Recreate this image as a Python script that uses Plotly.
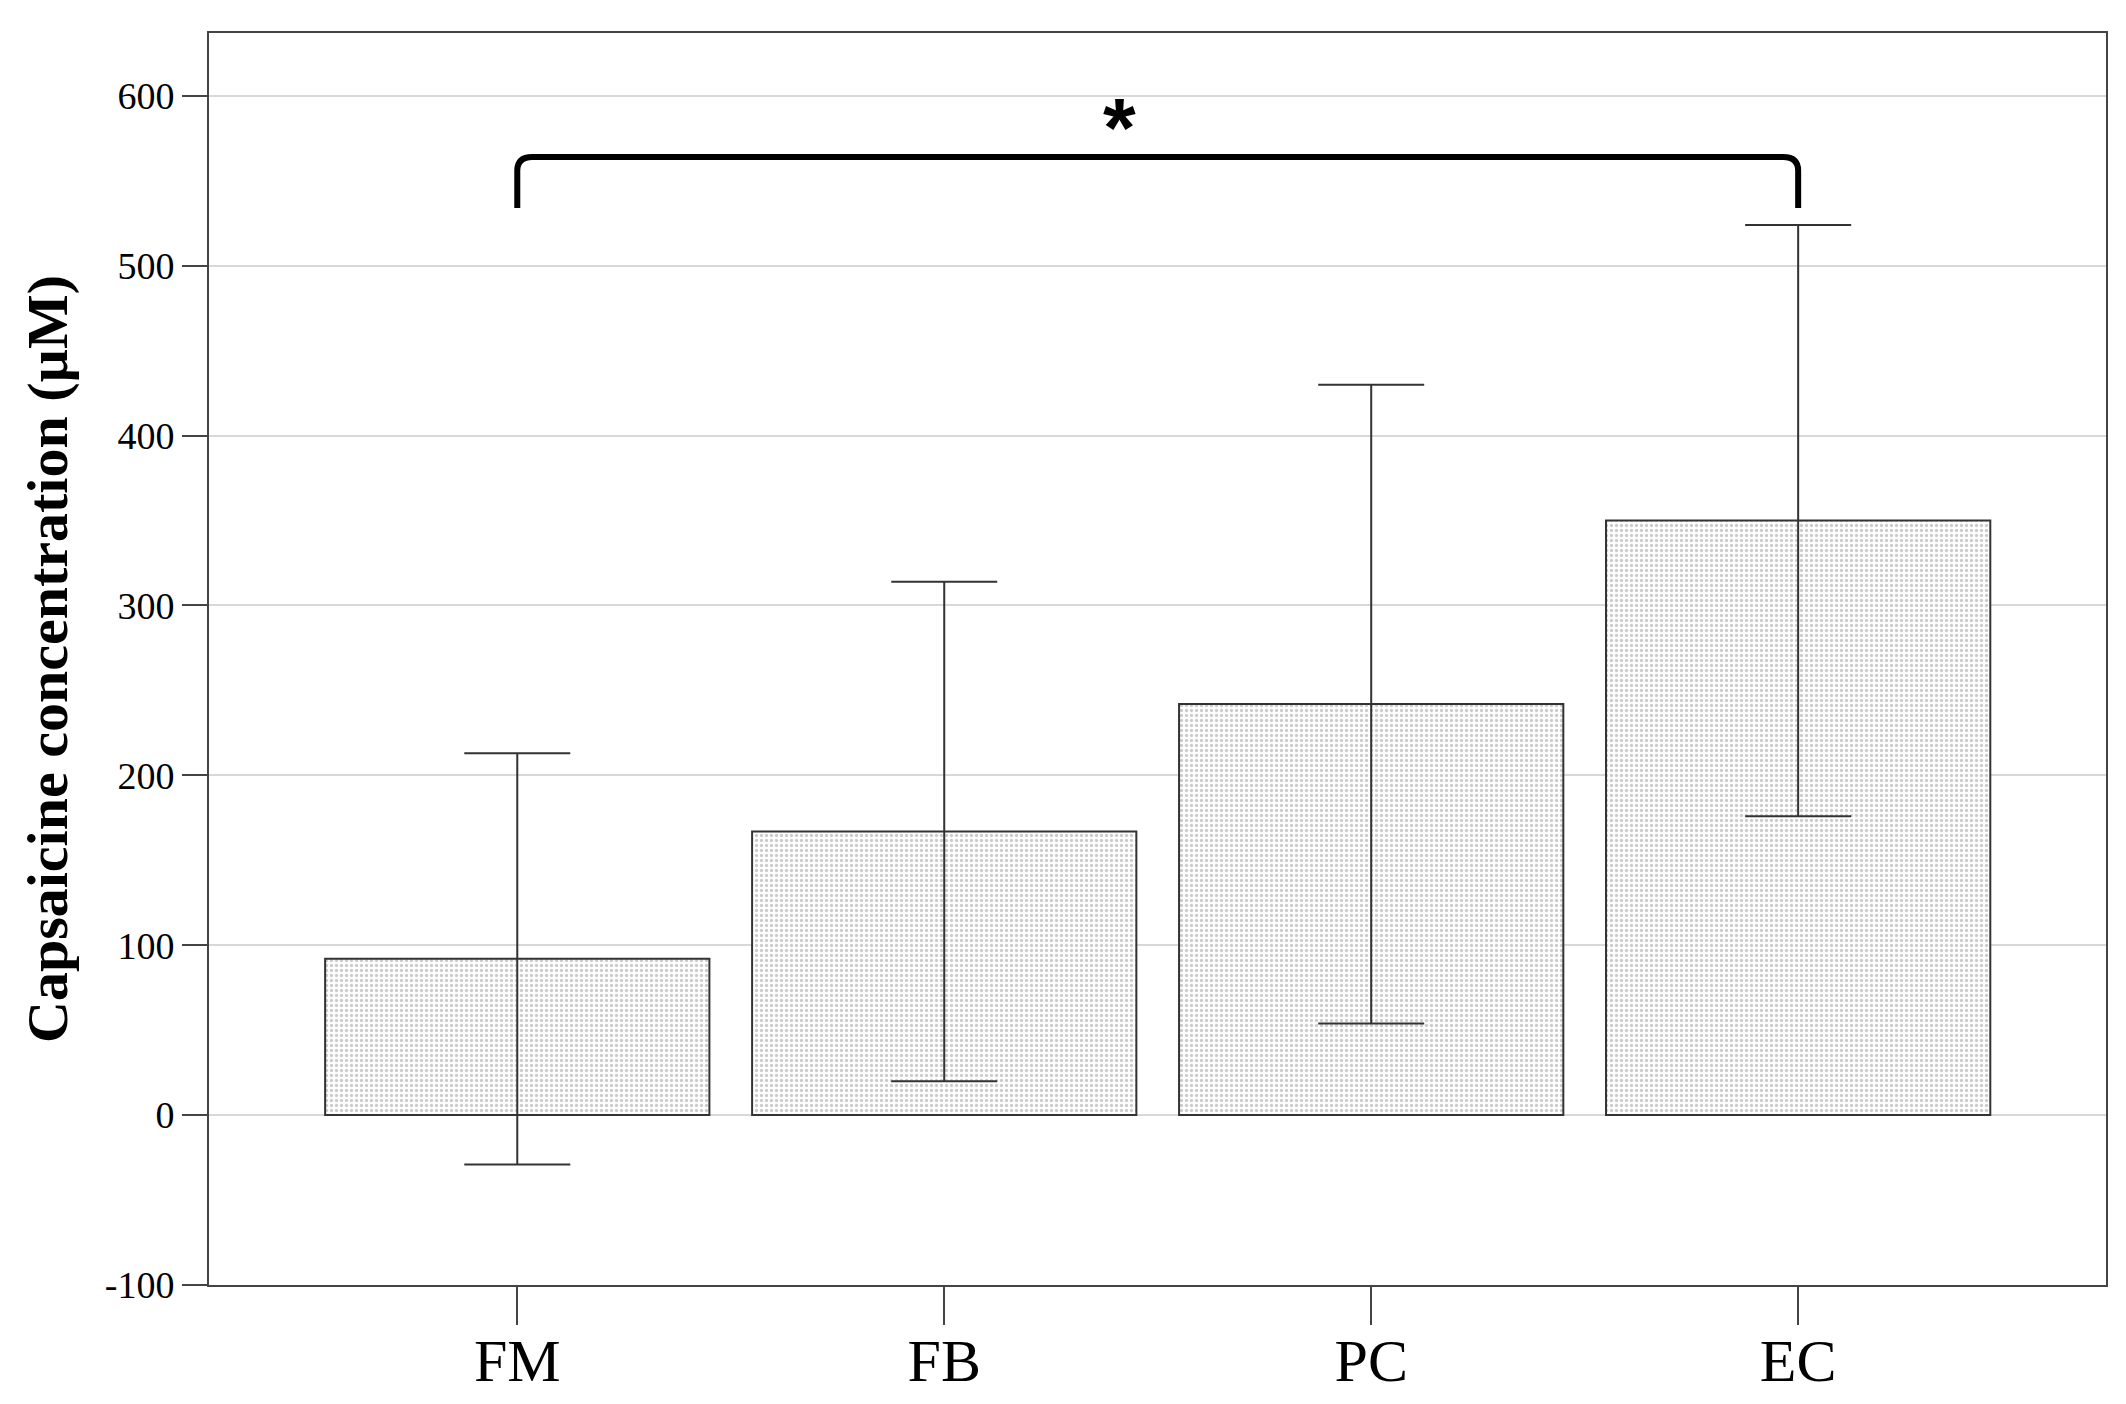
import plotly.graph_objects as go

categories = ["FM", "FB", "PC", "EC"]
means = [92, 167, 242, 350]
errors = [121, 147, 188, 174]

y_ticks = [-100, 0, 100, 200, 300, 400, 500, 600]
y_range = [-100, 637]

# significance bracket between FM and EC
bracket_from = 0
bracket_to = 3
bracket_top = 564
bracket_bottom = 534
star_x = 1.41
star_y = 581

fig = go.Figure()
fig.add_trace(go.Bar(
    x=list(range(len(categories))),
    y=means,
    width=0.9,
    marker=dict(
        color="white",
        line=dict(color="#333333", width=2),
        pattern=dict(shape=".", size=5, solidity=0.35, fgcolor="#9a9a9a", bgcolor="white", fillmode="overlay"),
    ),
    error_y=dict(type="data", array=errors, visible=True, color="#333333", thickness=2, width=53),
    showlegend=False,
))

r = 0.035
rv = 8
path = (f"M {bracket_from},{bracket_bottom} L {bracket_from},{bracket_top - rv} "
        f"Q {bracket_from},{bracket_top} {bracket_from + r},{bracket_top} "
        f"L {bracket_to - r},{bracket_top} Q {bracket_to},{bracket_top} {bracket_to},{bracket_top - rv} "
        f"L {bracket_to},{bracket_bottom}")
fig.add_shape(type="path", path=path, xref="x", yref="y", line=dict(color="black", width=6))

fig.add_annotation(x=star_x, y=star_y, xref="x", yref="y", text="<b>*</b>", showarrow=False,
                   font=dict(family="Liberation Sans", size=84, color="black"), yanchor="middle")

fig.update_layout(
    width=2126, height=1404,
    margin=dict(l=201, r=28, t=25, b=127),
    paper_bgcolor="white", plot_bgcolor="white",
    font=dict(family="Liberation Serif", color="black"),
)
fig.update_xaxes(
    range=[-0.722, 3.721], automargin=False,
    tickmode="array", tickvals=list(range(len(categories))), ticktext=categories,
    tickfont=dict(family="Liberation Serif", size=60, color="black"),
    ticks="outside", ticklen=38, tickwidth=2, tickcolor="#444444",
    ticklabelstandoff=-16,
    showline=True, linecolor="#444444", linewidth=2, mirror=True,
    showgrid=False, zeroline=False,
)
fig.update_yaxes(
    range=y_range, automargin=False,
    tickmode="array", tickvals=y_ticks, ticktext=[str(v) for v in y_ticks],
    tickfont=dict(family="Liberation Serif", size=38, color="black"),
    ticks="outside", ticklen=25, tickwidth=2, tickcolor="#444444",
    showline=True, linecolor="#444444", linewidth=2, mirror=True,
    showgrid=True, gridcolor="#d8d8d8", gridwidth=2, zeroline=False,
    title=dict(text="<b>Capsaicine concentration (µM)</b>", font=dict(family="Liberation Serif", size=58, color="black"), standoff=18),
)

fig.write_html("out.html")
